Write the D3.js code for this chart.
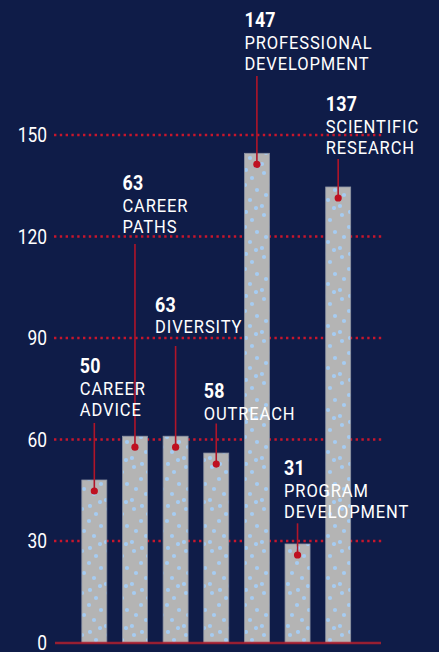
<!DOCTYPE html>
<html>
<head>
<meta charset="utf-8">
<script src="https://cdn.jsdelivr.net/npm/d3@7"></script>
<style>
html,body{margin:0;padding:0;background:#0f1c48;}
svg{display:block;}
text{font-family:Roboto,"Liberation Sans",sans-serif;}
</style>
</head>
<body>
<div id="chart"></div>
<script>
// ---- data ----
const categories = ["Career Advice","Career Paths","Diversity","Outreach","Professional Development","Program Development","Scientific Research"];
const labelLines = [["CAREER","ADVICE"],["CAREER","PATHS"],["DIVERSITY"],["OUTREACH"],["PROFESSIONAL","DEVELOPMENT"],["PROGRAM","DEVELOPMENT"],["SCIENTIFIC","RESEARCH"]];
const values = [50,63,63,58,147,31,137];
const yTicks = [0,30,60,90,120,150];

// ---- layout (label placement, not data) ----
const labelBaseline = [373.3,190,311.7,398.3,27.3,475,111];
const labelDx = [-2,0,-8,0,0,-1,0];
const leaderTop = [423,244,346,423.5,76,523.3,159];
const SX = 0.87; // condensed look

const W = 439, H = 652;
const svg = d3.select("#chart").append("svg").attr("width",W).attr("height",H);
svg.append("rect").attr("width",W).attr("height",H).attr("fill","#0f1c48");

const defs = svg.append("defs");
const pat = defs.append("pattern").attr("id","dots").attr("patternUnits","userSpaceOnUse")
  .attr("width",26).attr("height",42);
pat.append("rect").attr("width",26).attr("height",42).attr("fill","#b4b4b4");
[[4,5],[18,10],[11,17],[23,22],[6,27],[16,32],[2,38],[22,40],[12,2]].forEach(p=>{
  pat.append("circle").attr("cx",p[0]).attr("cy",p[1]).attr("r",2.1).attr("fill","#a6ccf2");
});

const x = d3.scaleBand().domain(categories).range([61.5,371]).paddingInner(0.385).paddingOuter(0.5);
const y = d3.scaleLinear().domain([0,150]).range([642.5,135]);
const yBar = d3.scaleLinear().domain([0,150]).range([648.4,143.2]);

// gridlines
svg.append("g").selectAll("line").data(yTicks.filter(t=>t>0)).join("line")
  .attr("x1",54).attr("x2",383)
  .attr("y1",d=>y(d)).attr("y2",d=>y(d))
  .attr("stroke","#c8162c").attr("stroke-width",2.4)
  .attr("stroke-dasharray","2.4 3.4");

// axis labels (via d3 axis, then condensed)
const axis = d3.axisLeft(y).tickValues(yTicks).tickSize(0).tickPadding(0);
const ag = svg.append("g").attr("transform","translate(47,0)").call(axis);
ag.select(".domain").remove();
ag.attr("font-family",null).attr("font-size",null);
ag.selectAll(".tick").attr("transform",d=>`translate(0,${y(d)}) scale(${SX},1)`);
ag.selectAll("text").attr("fill","#ffffff").attr("font-size",20)
  .attr("font-family","Roboto,sans-serif")
  .attr("dy",null).attr("x",0).attr("y",7.3);

// bars
svg.append("g").selectAll("rect").data(values).join("rect")
  .attr("x",(d,i)=>x(categories[i]))
  .attr("width",x.bandwidth())
  .attr("y",d=>yBar(d))
  .attr("height",d=>y(0)-yBar(d))
  .attr("fill","url(#dots)")
  .attr("stroke","#8d93a3").attr("stroke-width",0.8);

// baseline
svg.append("line").attr("x1",55).attr("x2",381).attr("y1",y(0)+0.5).attr("y2",y(0)+0.5)
  .attr("stroke","#b0202f").attr("stroke-opacity",0.85).attr("stroke-width",2.5);

// leaders + dots
const lg = svg.append("g");
values.forEach((v,i)=>{
  const cx = x(categories[i]) + x.bandwidth()/2;
  const cy = yBar(v) + 11;
  lg.append("line").attr("x1",cx).attr("x2",cx).attr("y1",leaderTop[i]).attr("y2",cy)
    .attr("stroke","#b01529").attr("stroke-width",1.6);
  lg.append("circle").attr("cx",cx).attr("cy",cy).attr("r",3.6).attr("fill","#bf1020");
});

// labels
const tg = svg.append("g");
values.forEach((v,i)=>{
  const lx = x(categories[i]) + labelDx[i];
  const g = tg.append("g").attr("transform",`translate(${lx},${labelBaseline[i]}) scale(${SX},1)`);
  const t = g.append("text").attr("x",0).attr("y",0).attr("fill","#ffffff");
  t.append("tspan").attr("x",0).attr("font-weight","bold").attr("font-size",20.5).attr("letter-spacing",0.3).text(v);
  labelLines[i].forEach((ln)=>{
    t.append("tspan").attr("x",0).attr("dy",21.6).attr("font-size",19).attr("letter-spacing",1).text(ln);
  });
});
</script>
</body>
</html>
